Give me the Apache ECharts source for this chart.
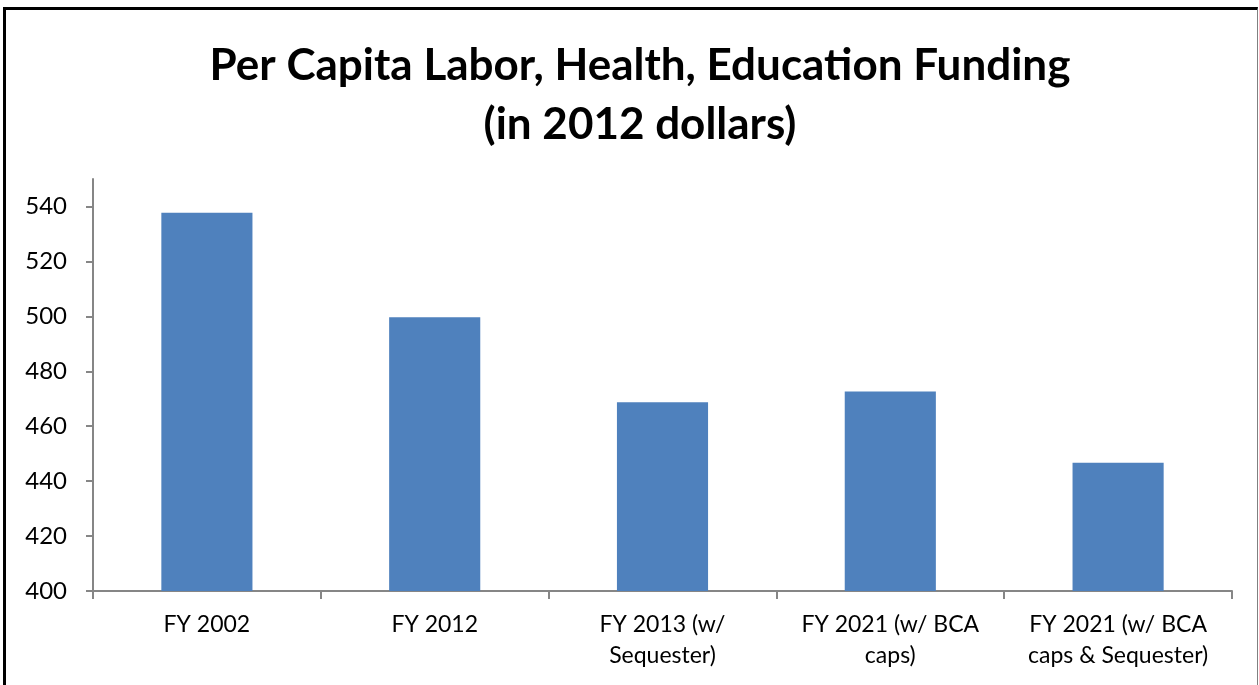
<!DOCTYPE html>
<html>
<head>
<meta charset="utf-8">
<script src="https://cdn.jsdelivr.net/npm/echarts@6/dist/echarts.min.js"></script>
<style>
  html, body { margin: 0; padding: 0; background: #fff; }
  #chart { position: absolute; left: 0; top: 0; width: 1259px; height: 685px; }
  #frame { position: absolute; left: 3px; top: 7px; width: 1251px; height: 690px;
           border-left: 3px solid #000; border-top: 3px solid #000; border-right: 1px solid #808080;
           pointer-events: none; }
</style>
</head>
<body>
<div id="chart"></div>
<div id="frame"></div>
<script>
const categories = ['FY 2002', 'FY 2012', 'FY 2013 (w/\nSequester)', 'FY 2021 (w/ BCA\ncaps)', 'FY 2021 (w/ BCA\ncaps & Sequester)'];
const values = [537.7, 499.7, 468.7, 472.6, 446.7];
const yTicks = [400, 420, 440, 460, 480, 500, 520, 540];
const titleText = 'Per Capita Labor, Health, Education Funding\n(in 2012 dollars)';

const chart = echarts.init(document.getElementById('chart'), null, { renderer: 'canvas' });
chart.setOption({
  backgroundColor: '#fff',
  animation: false,
  title: {
    text: titleText,
    left: 635,
    top: 31,
    textAlign: 'center',
    textStyle: { fontFamily: 'Lato', fontWeight: 'bold', fontSize: 44, lineHeight: 59, color: '#000' }
  },
  grid: { left: 93, right: 27, top: 179, bottom: 94, containLabel: false },
  xAxis: {
    type: 'category',
    data: categories,
    boundaryGap: true,
    axisLine: { lineStyle: { color: '#868686', width: 2 } },
    axisTick: { show: true, length: 8, inside: false, lineStyle: { color: '#868686', width: 2 } },
    axisLabel: { fontFamily: 'Lato', fontSize: 23, color: '#000', lineHeight: 31, margin: 18, interval: 0 }
  },
  yAxis: {
    type: 'value',
    min: 400,
    max: 550,
    interval: 20,
    splitLine: { show: false },
    axisLine: { show: true, lineStyle: { color: '#868686', width: 2 } },
    axisTick: { show: true, length: 7, lineStyle: { color: '#868686', width: 2 }, customValues: yTicks },
    axisLabel: { fontFamily: 'Lato', fontSize: 24, color: '#000', margin: 26, customValues: yTicks }
  },
  series: [{
    type: 'bar',
    data: values,
    barWidth: '40%',
    itemStyle: { color: '#4F81BD' }
  }]
});
</script>
</body>
</html>
